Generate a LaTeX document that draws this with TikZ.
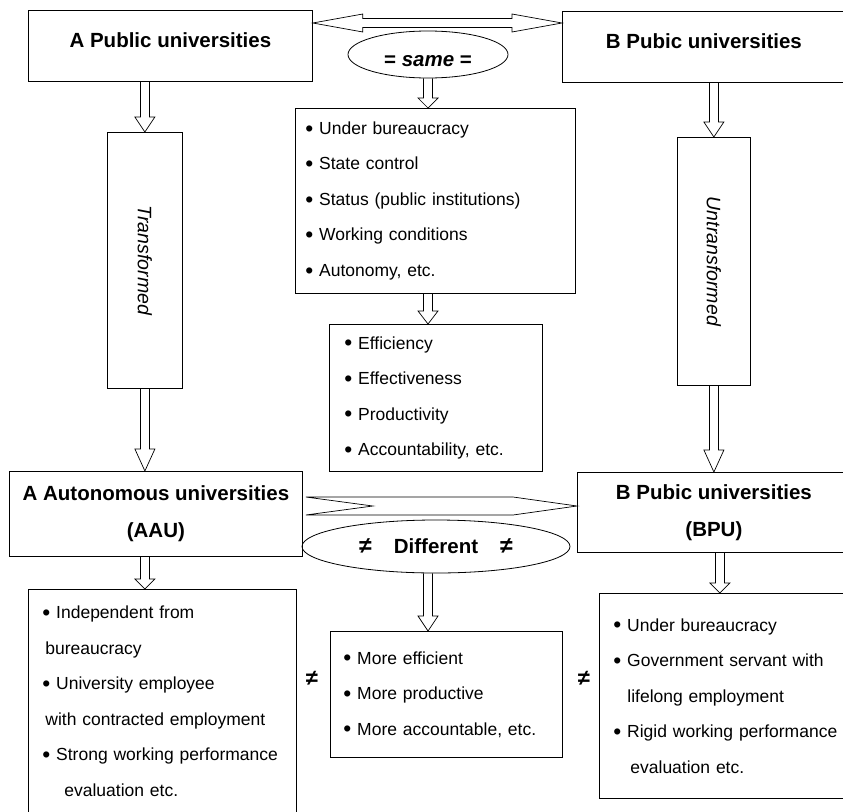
\documentclass[tikz,border=0pt]{standalone}
\usepackage{fontspec}
\setmainfont{Liberation Sans}
\usepackage{graphicx}
\usetikzlibrary{shapes.geometric, calc}

\tikzset{
  box/.style={draw, line width=0.8pt, inner sep=0pt, anchor=north west},
  headbox/.style={box, font=\fontsize{20.5}{37}\selectfont\bfseries, align=center},
  listbox/.style={box, font=\fontsize{17.5}{35.5}\selectfont, align=left},
  sidebox/.style={box, font=\fontsize{19.5}{22}\selectfont\itshape},
  oval/.style={draw, ellipse, line width=0.8pt, inner sep=0pt,
    font=\fontsize{20.5}{24}\selectfont\bfseries},
  neqmark/.style={font=\fontsize{22}{24}\selectfont\bfseries},
  hollow/.style={line width=0.7pt, line join=miter},
}
\newcommand{\bul}{\raisebox{-1.8pt}{\scalebox{1.3}{\textbullet}}\ }
\newcommand{\bigneq}{{\fontsize{23}{24}\selectfont ≠}}
% hollow block arrow pointing down: [head length]{tail}{tip}
\newcommand{\hollowdown}[3][13]{%
  \draw[hollow] ($(#2)+(-4.5,0)$) -- ($(#3)+(-4.5,-#1)$) -- ($(#3)+(-10,-#1)$)
    -- (#3) -- ($(#3)+(10,-#1)$) -- ($(#3)+(4.5,-#1)$) -- ($(#2)+(4.5,0)$);}

\begin{document}
\begin{tikzpicture}[x=1pt, y=-1pt]
  \useasboundingbox (0,0) rectangle (843,811);

  % top row
  \node[headbox, minimum width=284, minimum height=71, text depth=11pt] (apub) at (28,10) {A Public universities};
  \node[headbox, minimum width=283, minimum height=71, text depth=11pt] (bpub) at (562,11) {B Pubic universities};
  \node[oval, minimum width=160, minimum height=47, text height=24pt] (same) at (428,54.5) {= \textit{same} =};

  % side columns
  \node[sidebox, minimum width=75, minimum height=256] (trans) at (107,132) {\rotatebox{-90}{Transformed}};
  \node[sidebox, minimum width=73, minimum height=248] (untrans) at (677,137) {\rotatebox{-90}{Untransformed}};

  % common features
  \node[listbox, inner xsep=10pt, text width=260pt, minimum height=185] (common) at (295,108)
    {\bul Under bureaucracy\\ \bul State control\\ \bul Status (public institutions)\\
     \bul Working conditions\\ \bul Autonomy, etc.};
  \node[listbox, inner xsep=15pt, text width=183pt, minimum height=147] (perf) at (329,324)
    {\bul Efficiency\\ \bul Effectiveness\\ \bul Productivity\\ \bul Accountability, etc.};

  % middle row
  \node[headbox, minimum width=293, minimum height=85] (aau) at (9,471) {A Autonomous universities\\(AAU)};
  \node[headbox, minimum width=273, minimum height=80] (bpu) at (577,472) {B Pubic universities\\(BPU)};
  \node[oval, minimum width=268, minimum height=53] (diff) at (436,546.5)
    {\bigneq\hspace{22pt}Different\hspace{22pt}\bigneq};

  % bottom row
  \node[listbox, inner xsep=14pt, text width=240pt, minimum height=224] (aaulist) at (28,589)
    {\bul Independent from\\ \hspace*{3pt}bureaucracy\\ \bul University employee\\
     \hspace*{3pt}with contracted employment\\ \bul Strong working performance\\
     \hspace*{22pt}evaluation etc.};
  \node[listbox, inner xsep=13pt, text width=206pt, minimum height=126] (difflist) at (330,631)
    {\bul More efficient\\ \bul More productive\\ \bul More accountable, etc.\par\vspace*{12pt}};
  \node[listbox, inner xsep=14pt, text width=240pt, minimum height=205] (bpulist) at (599,593)
    {\bul Under bureaucracy\\ \bul Government servant with\\ \hspace*{14pt}lifelong employment\\
     \bul Rigid working performance\\ \hspace*{17pt}evaluation etc.\par\vspace*{19pt}};
  \node[neqmark] (neq1) at (312,678) {≠};
  \node[neqmark] (neq2) at (584,678) {≠};

  % double arrow A <-> B (same)
  \coordinate (sl) at ($(apub.north east)+(0,13)$);
  \coordinate (sr) at (bpub.west |- sl);
  \draw[hollow] (sl) -- ++(50,-9) -- ++(0,4.5) -- ($(sr)+(-50,-4.5)$) -- ++(0,-4.5) -- (sr)
    -- ++(-50,9) -- ++(0,-4.5) -- ($(sl)+(50,4.5)$) -- ++(0,4.5) -- cycle;

  % notched arrow AAU -> BPU (different)
  \coordinate (nl) at ($(aau.north east)+(3,35)$);
  \coordinate (nr) at (bpu.west |- nl);
  \draw[hollow] ($(nl)+(0,-9)$) -- ($(nr)+(-64,-9)$) -- (nr) -- ($(nr)+(-64,9)$)
    -- ($(nl)+(0,9)$) -- ($(nl)+(67,0)$) -- cycle;

  % down arrows
  \hollowdown[15]{trans.north |- apub.south}{trans.north}
  \hollowdown[22]{trans.south}{trans.south |- aau.north}
  \hollowdown[15]{untrans.north |- bpub.south}{untrans.north}
  \hollowdown[22]{untrans.south}{untrans.south |- bpu.north}
  \hollowdown[10]{same.south}{same.south |- common.north}
  \hollowdown{same.south |- common.south}{same.south |- perf.north}
  \hollowdown[10]{trans.south |- aau.south}{trans.south |- aaulist.north}
  \coordinate (dt) at (same.south |- diff.south);
  \hollowdown[15]{dt}{dt |- difflist.north}
  \coordinate (bt) at ($(bpu.south)+(6,0)$);
  \hollowdown[10]{bt}{bt |- bpulist.north}
\end{tikzpicture}
\end{document}
